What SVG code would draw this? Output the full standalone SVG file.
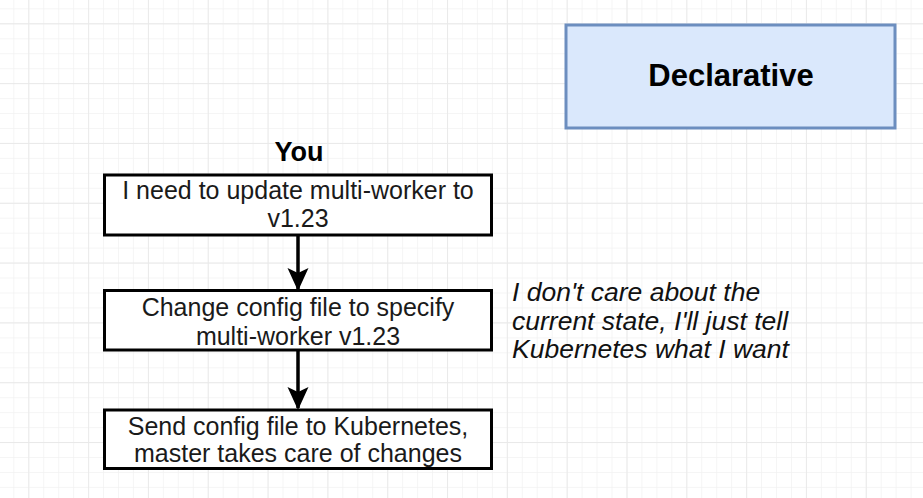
<svg xmlns="http://www.w3.org/2000/svg" width="923" height="498" viewBox="0 0 923 498">
<defs>
<style>
.box{fill:#ffffff;stroke:#000000;stroke-width:3}
.t{font-family:"Liberation Sans",Arial,Helvetica,sans-serif;font-size:25px;fill:#1a1a1a;text-anchor:middle}
.b{font-family:"Liberation Sans",Arial,Helvetica,sans-serif;font-weight:bold;fill:#000000;text-anchor:middle}
.i{font-family:"Liberation Sans",Arial,Helvetica,sans-serif;font-style:italic;font-size:26.5px;fill:#111111}
.conn{stroke:#000000;stroke-width:3.5;fill:none}
</style>
<pattern id="minor" patternUnits="userSpaceOnUse" x="13.3" y="8.35" width="14.955" height="14.955">
<path d="M0 0H14.955M0 0V14.955" stroke="#f2f2f2" stroke-width="1.5" fill="none"/>
</pattern>
<pattern id="major" patternUnits="userSpaceOnUse" x="28.3" y="23.3" width="59.82" height="59.82">
<path d="M0 0H59.82M0 0V59.82" stroke="#e9e9e9" stroke-width="1.8" fill="none"/>
</pattern>
<marker id="arr" markerUnits="userSpaceOnUse" markerWidth="24" markerHeight="26" refX="21" refY="10.5" orient="auto" viewBox="0 0 24 21">
<path d="M0 0L23 10.5L0 21L5 10.5Z" fill="#000000"/>
</marker>
</defs>
<rect width="923" height="498" fill="#ffffff"/>
<rect width="923" height="498" fill="url(#minor)"/>
<rect width="923" height="498" fill="url(#major)"/>

<g id="declarative">
<rect x="566" y="25" width="329" height="103" fill="#dae8fc" stroke="#6c8ebf" stroke-width="3"/>
<text class="b" x="731" y="86" font-size="31">Declarative</text>
</g>

<g id="you-label">
<text class="b" x="299" y="161" font-size="27">You</text>
</g>

<g id="connectors">
<path class="conn" d="M298 235V289" marker-end="url(#arr)"/>
<path class="conn" d="M298 350V408" marker-end="url(#arr)"/>
</g>

<g id="step1">
<rect class="box" x="104.5" y="175" width="387" height="60"/>
<text class="t" x="298" y="199">I need to update multi-worker to</text>
<text class="t" x="298" y="227">v1.23</text>
</g>

<g id="step2">
<rect class="box" x="104.5" y="290.5" width="387" height="59.5"/>
<text class="t" x="298" y="316">Change config file to specify</text>
<text class="t" x="298" y="345">multi-worker v1.23</text>
</g>

<g id="step3">
<rect class="box" x="104.5" y="410" width="387" height="58.5"/>
<text class="t" x="298" y="435">Send config file to Kubernetes,</text>
<text class="t" x="298" y="462">master takes care of changes</text>
</g>

<g id="note">
<text class="i" x="512" y="301">I don't care about the</text>
<text class="i" x="512" y="329.5">current state, I'll just tell</text>
<text class="i" x="512" y="358">Kubernetes what I want</text>
</g>
</svg>
